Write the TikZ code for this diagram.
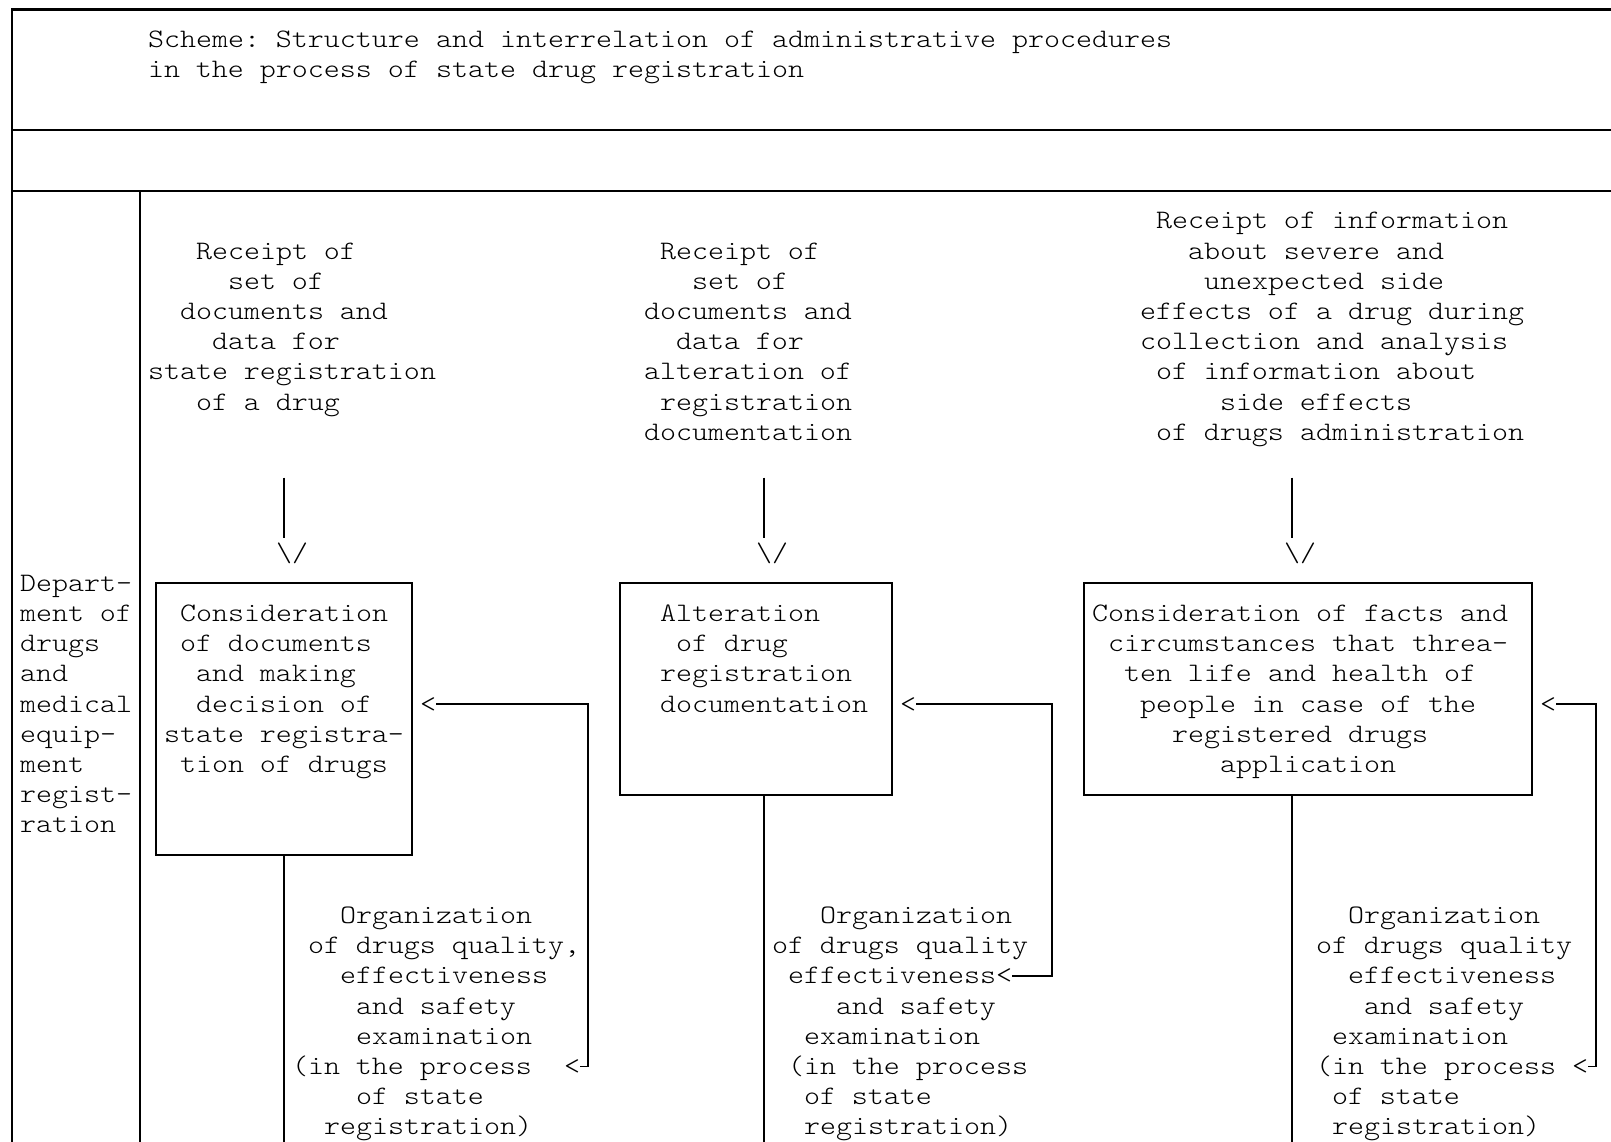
\documentclass[tikz,border=0pt]{standalone}
\usepackage{fontspec}
\setmonofont[FakeStretch=1.143]{lmmonolt10-regular.otf}
\usetikzlibrary{fit}
% text line at grid cell (col,row)
\newcommand\gl[4]{\node[txt] (#1) at ({4+16*(#2)},{17.5+30.2*(#3)}) {#4};}
% coordinate at cell centre (col,row)
\newcommand\gc[3]{\coordinate (#1) at ({12+16*(#2)},{9.5+30.2*(#3)});}
\begin{document}
\begin{tikzpicture}[x=0.5pt,y=-0.5pt,
  txt/.style={anchor=base west,inner sep=0pt,outer sep=0pt,
    font=\ttfamily\fontsize{13.333pt}{16pt}\selectfont},
  frame/.style={line width=1.1pt},
  conn/.style={line width=0.9pt},
  boxst/.style={draw,line width=0.9pt,inner sep=0pt,outer sep=0pt}]
\useasboundingbox[fill=white] (0,0) rectangle (1611,1141);

% ---------- frame ----------
\gc{tl}{0}{0}  \gc{tr}{100.5}{0}
\gc{r4l}{0}{4} \gc{r4r}{100.5}{4}
\gc{r6l}{0}{6} \gc{r6r}{100.5}{6}
\gc{bl}{0}{37.8}
\gc{d6}{8}{6}  \gc{dbot}{8}{37.8}
\draw[frame] (bl) -- (tl) -- (tr);
\draw[frame] (r4l) -- (r4r);
\draw[frame] (r6l) -- (r6r);
\draw[frame] (d6) -- (dbot);

% ---------- title ----------
\gl{t1}{9}{1}{Scheme: Structure and interrelation of administrative procedures}
\gl{t2}{9}{2}{in the process of state drug registration}

% ---------- department ----------
\gl{d1}{1}{19}{Depart-}
\gl{d2}{1}{20}{ment of}
\gl{d3}{1}{21}{drugs}
\gl{d4}{1}{22}{and}
\gl{d5}{1}{23}{medical}
\gl{d6t}{1}{24}{equip-}
\gl{d7}{1}{25}{ment}
\gl{d8}{1}{26}{regist-}
\gl{d9}{1}{27}{ration}

% ---------- top texts ----------
\gl{a1}{12}{8}{Receipt of}
\gl{a2}{14}{9}{set of}
\gl{a3}{11}{10}{documents and}
\gl{a4}{13}{11}{data for}
\gl{a5}{9}{12}{state registration}
\gl{a6}{12}{13}{of a drug}

\gl{b1}{41}{8}{Receipt of}
\gl{b2}{43}{9}{set of}
\gl{b3}{40}{10}{documents and}
\gl{b4}{42}{11}{data for}
\gl{b5}{40}{12}{alteration of}
\gl{b6}{41}{13}{registration}
\gl{b7}{40}{14}{documentation}

\gl{c1}{72}{7}{Receipt of information}
\gl{c2}{74}{8}{about severe and}
\gl{c3}{75}{9}{unexpected side}
\gl{c4}{71}{10}{effects of a drug during}
\gl{c5}{71}{11}{collection and analysis}
\gl{c6}{72}{12}{of information about}
\gl{c7}{76}{13}{side effects}
\gl{c8}{72}{14}{of drugs administration}

% ---------- down arrows ----------
\gc{ar1s}{17}{15.5} \gc{ar1e}{17}{17.5}
\gc{ar2s}{47}{15.5} \gc{ar2e}{47}{17.5}
\gc{ar3s}{80}{15.5} \gc{ar3e}{80}{17.5}
\draw[conn] (ar1s) -- (ar1e);
\draw[conn] (ar2s) -- (ar2e);
\draw[conn] (ar3s) -- (ar3e);
\gl{v1}{17}{18}{\textbackslash/}
\gl{v2}{47}{18}{\textbackslash/}
\gl{v3}{80}{18}{\textbackslash/}

% ---------- boxes ----------
\gc{k1a}{9}{19}  \gc{k1b}{25}{28}
\gc{k2a}{38}{19} \gc{k2b}{55}{26}
\gc{k3a}{67}{19} \gc{k3b}{95}{26}
\node[boxst,fit=(k1a)(k1b)] (box1) {};
\node[boxst,fit=(k2a)(k2b)] (box2) {};
\node[boxst,fit=(k3a)(k3b)] (box3) {};

\gl{p1}{11}{20}{Consideration}
\gl{p2}{11}{21}{of documents}
\gl{p3}{12}{22}{and making}
\gl{p4}{12}{23}{decision of}
\gl{p5}{10}{24}{state registra-}
\gl{p6}{11}{25}{tion of drugs}

\gl{q1}{41}{20}{Alteration}
\gl{q2}{42}{21}{of drug}
\gl{q3}{41}{22}{registration}
\gl{q4}{41}{23}{documentation}

\gl{s1}{68}{20}{Consideration of facts and}
\gl{s2}{69}{21}{circumstances that threa-}
\gl{s3}{70}{22}{ten life and health of}
\gl{s4}{71}{23}{people in case of the}
\gl{s5}{73}{24}{registered drugs}
\gl{s6}{76}{25}{application}

% ---------- lines down from boxes ----------
\gc{l1s}{17}{28} \gc{l1e}{17}{37.8}
\gc{l2s}{47}{26} \gc{l2e}{47}{37.8}
\gc{l3s}{80}{26} \gc{l3e}{80}{37.8}
\draw[conn] (l1s) -- (l1e);
\draw[conn] (l2s) -- (l2e);
\draw[conn] (l3s) -- (l3e);

% ---------- lower texts ----------
\gl{e1}{21}{30}{Organization}
\gl{e2}{19}{31}{of drugs quality,}
\gl{e3}{21}{32}{effectiveness}
\gl{e4}{22}{33}{and safety}
\gl{e5}{22}{34}{examination}
\gl{e6}{18}{35}{(in the process}
\gl{e7}{22}{36}{of state}
\gl{e8}{20}{37}{registration)}

\gl{g1}{51}{30}{Organization}
\gl{g2}{48}{31}{of drugs quality}
\gl{g3}{49}{32}{effectiveness<}
\gl{g4}{52}{33}{and safety}
\gl{g5}{50}{34}{examination}
\gl{g6}{49}{35}{(in the process}
\gl{g7}{50}{36}{of state}
\gl{g8}{50}{37}{registration)}

\gl{h1}{84}{30}{Organization}
\gl{h2}{82}{31}{of drugs quality}
\gl{h3}{84}{32}{effectiveness}
\gl{h4}{85}{33}{and safety}
\gl{h5}{83}{34}{examination}
\gl{h6}{82}{35}{(in the process <}
\gl{h7}{83}{36}{of state}
\gl{h8}{83}{37}{registration)}

% ---------- feedback connectors ----------
\gl{f1}{26}{23}{<}
\gl{f1t}{35}{35}{<}
\gc{f1a}{26.5}{23} \gc{f1c}{36}{35} \gc{f1d}{35.5}{35}
\draw[conn] (f1a) -| (f1c) -- (f1d);

\gl{f2}{56}{23}{<}
\gc{f2a}{56.5}{23} \gc{f2c}{65}{32} \gc{f2d}{62.5}{32}
\draw[conn] (f2a) -| (f2c) -- (f2d);

\gl{f3}{96}{23}{<}
\gc{f3a}{96.5}{23} \gc{f3c}{99}{35} \gc{f3d}{98.5}{35}
\draw[conn] (f3a) -| (f3c) -- (f3d);
\end{tikzpicture}
\end{document}
